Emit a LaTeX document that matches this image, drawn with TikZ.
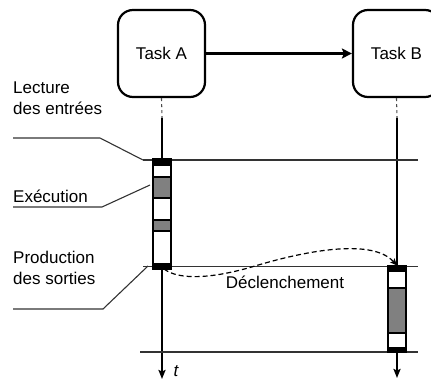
\documentclass[tikz,border=0pt]{standalone}
\usepackage{fontspec}
\setmainfont{Liberation Sans}
\usetikzlibrary{arrows.meta}
\definecolor{barfill}{HTML}{808080}
\tikzset{
  task/.style={draw,line width=2.2pt,rounded corners=15pt,minimum width=87pt,minimum height=87pt,inner sep=0pt,font=\fontsize{17}{20}\selectfont},
  lbl/.style={align=left,anchor=base west,inner sep=0pt,font=\fontsize{17}{20.5}\selectfont},
  thinline/.style={line width=1.1pt,draw=black!80},
  lifeline/.style={line width=2.2pt},
  stub/.style={line width=1.1pt,dash pattern=on 3pt off 3pt,draw=black!70},
  downarrow/.style={lifeline,-{Stealth[length=9pt,width=7pt,inset=1.5pt]}},
  bar/.style={draw,line width=1.7pt,fill=white},
  capblk/.style={fill=black},
  execblk/.style={draw,line width=1.7pt,fill=barfill},
}
\begin{document}
\begin{tikzpicture}[x=1pt,y=-1pt]
\useasboundingbox (0,0) rectangle (431,380);
% tasks
\node[task] (taskA) at (161.5,53.5) {Task A};
\node[task] (taskB) at (396.5,53.5) {Task B};
\draw[line width=2.5pt,-{Stealth[length=10pt,width=10pt,inset=2pt]}] (taskA.east) -- (taskB.west);
% lifeline coordinates
\coordinate (aS) at (162,118);
\coordinate (bS) at (397,118);
\coordinate (aTop) at (162,159);
\coordinate (aBot) at (162,269);
\coordinate (aEnd) at (162,379);
\coordinate (bTop) at (397,265.5);
\coordinate (bBot) at (397,352.5);
\coordinate (bEnd) at (397,378);
\draw[stub] (taskA.south) -- (aS);
\draw[stub] (taskB.south) -- (bS);
\draw[lifeline] (aS) -- (aTop);
\draw[lifeline] (bS) -- (bTop);
\draw[downarrow] (aBot) -- (aEnd);
\draw[downarrow] (bBot) -- (bEnd);
% horizontal time lines
\coordinate (h1l) at (143,160); \coordinate (h1r) at (418,160);
\coordinate (h2l) at (143,266.5); \coordinate (h2r) at (418,266.5);
\coordinate (h3l) at (140,352); \coordinate (h3r) at (418,352);
\draw[thinline] (h1l) -- (h1r);
\draw[thinline] (h2l) -- (h2r);
\draw[thinline] (h3l) -- (h3r);
% bar A
\draw[bar] (153,159) rectangle (171,269);
\fill[capblk] (153,159) rectangle (171,165.5);
\fill[capblk] (153,263) rectangle (171,269);
\draw[execblk] (153,177) rectangle (171,198);
\draw[execblk] (153,220) rectangle (171,231);
% bar B
\draw[bar] (388,265.5) rectangle (406,352.5);
\fill[capblk] (388,265.5) rectangle (406,272);
\fill[capblk] (388,347) rectangle (406,352.5);
\draw[execblk] (388,288) rectangle (406,333);
% labels
\node[lbl] (lect) at (13,114) {Lecture\\des entrées};
\node[lbl] (exec) at (13,202) {Exécution};
\node[lbl] (prod) at (13,284.3) {Production\\des sorties};
\coordinate (l1a) at (13,138); \coordinate (l1b) at (100,138); \coordinate (l1c) at (143,160);
\coordinate (l2a) at (13,207); \coordinate (l2b) at (102,207); \coordinate (l2c) at (150,185);
\coordinate (l3a) at (13,309); \coordinate (l3b) at (103,309); \coordinate (l3c) at (148,266);
\draw[thinline] (l1a) -- (l1b) -- (l1c);
\draw[thinline] (l2a) -- (l2b) -- (l2c);
\draw[thinline] (l3a) -- (l3b) -- (l3c);
% trigger curve
\coordinate (cs) at (164,269);
\coordinate (cm) at (255,266);
\draw[line width=1.2pt,dash pattern=on 5pt off 3pt,-{Stealth[length=7pt,width=6pt,inset=1.5pt]}]
  (cs) .. controls (180,281) and (215,278) .. (cm)
       .. controls (295,254) and (370,236) .. (bTop);
\node[font=\fontsize{17}{20}\selectfont,anchor=base,inner sep=0pt] (decl) at (285,288) {Déclenchement};
\node[font=\fontsize{17}{20}\selectfont\itshape,anchor=base,inner sep=0pt] (tlab) at (176,376) {t};
\end{tikzpicture}
\end{document}
